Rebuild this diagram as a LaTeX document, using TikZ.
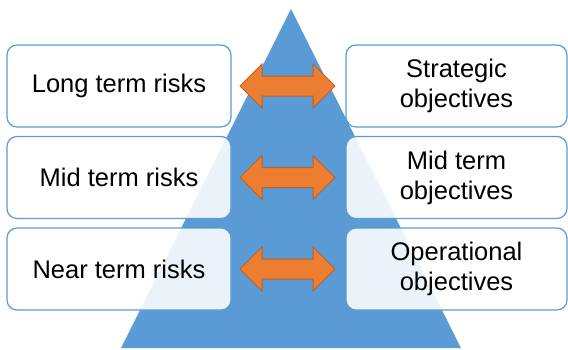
\documentclass[tikz,border=0pt]{standalone}
\usepackage{fontspec}
\setmainfont{Liberation Sans}
\definecolor{triblue}{HTML}{5B9BD5}
\definecolor{arrorange}{HTML}{ED7D31}
\definecolor{arrborder}{HTML}{B8612A}
\begin{document}
\begin{tikzpicture}[x=1pt,y=-1pt,
  riskbox/.style={draw=triblue, line width=1.2pt, fill=white, fill opacity=0.88, text opacity=1,
    rounded corners=10pt, minimum height=82pt, inner sep=0pt, align=center,
    font=\fontsize{25.5}{30}\selectfont},
  leftbox/.style={riskbox, minimum width=224pt},
  rightbox/.style={riskbox, minimum width=221pt},
  arrowbody/.style={draw=arrborder, fill=arrorange, line width=1pt, line join=miter},
  dblarrow/.pic={\path[arrowbody] (-47.5,0) -- (-25.5,-22) -- (-25.5,-10) -- (25.5,-10)
      -- (25.5,-22) -- (47.5,0) -- (25.5,22) -- (25.5,10) -- (-25.5,10) -- (-25.5,22) -- cycle;}]
\useasboundingbox (0,0) rectangle (568,349);
\fill[triblue] (291,9) -- (461,348) -- (121,348) -- cycle;
\node[leftbox] (l1) at (119,86) {Long term risks};
\node[leftbox] (l2) at (119,177.5) {Mid term risks};
\node[leftbox] (l3) at (119,269) {Near term risks};
\node[rightbox] (r1) at (456.5,86) {Strategic\\objectives};
\node[rightbox] (r2) at (456.5,177.5) {Mid term\\objectives};
\node[rightbox] (r3) at (456.5,269) {Operational\\objectives};
\coordinate (a1) at (287.5,86);
\coordinate (a2) at (287.5,177.5);
\coordinate (a3) at (287.5,269);
\pic at (a1) {dblarrow};
\pic at (a2) {dblarrow};
\pic at (a3) {dblarrow};
\end{tikzpicture}
\end{document}
